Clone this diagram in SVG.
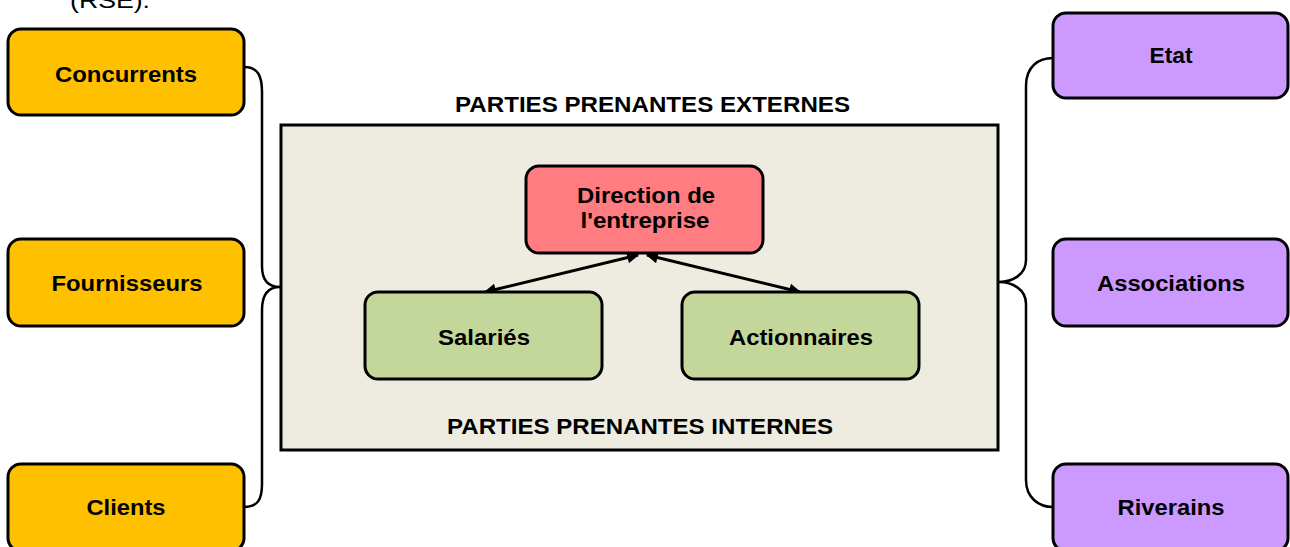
<svg xmlns="http://www.w3.org/2000/svg" width="1290" height="547" viewBox="0 0 1290 547">
<style>
  .t{font-family:"Liberation Sans",Arial,sans-serif;font-size:22px;font-weight:bold;fill:#000;text-anchor:middle}
  .box{stroke:#000;stroke-width:3}
  .ext-l{fill:#FFC000}
  .ext-r{fill:#CC99FF}
  .dir{fill:#FF7C80}
  .int{fill:#C4D79B}
  .brace{fill:none;stroke:#000;stroke-width:2.5}
  .arr{fill:none;stroke:#000;stroke-width:3}
</style>
<defs>
  <marker id="ah" viewBox="0 0 10 10" refX="9" refY="5" markerWidth="5" markerHeight="4" markerUnits="strokeWidth" orient="auto-start-reverse">
    <path d="M0,0 L10,5 L0,10 z" fill="#000"/>
  </marker>
</defs>
<rect width="1290" height="547" fill="#fff"/>
<text x="70" y="8" textLength="80" lengthAdjust="spacingAndGlyphs" style="font-family:'Liberation Sans',Arial,sans-serif;font-size:22px;fill:#000">(RSE).</text>

<g id="externes-frame">
  <rect x="281" y="125" width="717" height="325" fill="#EEECE1" stroke="#000" stroke-width="3"/>
  <text class="t" x="652.5" y="112" textLength="395" lengthAdjust="spacingAndGlyphs">PARTIES PRENANTES EXTERNES</text>
  <text class="t" x="640" y="434" textLength="386" lengthAdjust="spacingAndGlyphs">PARTIES PRENANTES INTERNES</text>
</g>

<g id="connectors">
  <path class="brace" d="M244,67 C258,67 262,76 262,92 L262,266 C262,280 268,287 280,287 C268,287 262,294 262,310 L262,484 C262,499 258,507 244,507"/>
  <path class="brace" d="M1053,58 C1039,58 1026,66 1026,86 L1026,260 C1026,275 1012,282 999,282 C1012,282 1026,289 1026,304 L1026,480 C1026,498 1039,507 1053,507"/>
  <line class="arr" x1="638" y1="255" x2="485" y2="292" marker-start="url(#ah)" marker-end="url(#ah)"/>
  <line class="arr" x1="647" y1="255" x2="800" y2="292" marker-start="url(#ah)" marker-end="url(#ah)"/>
</g>

<g id="concurrents">
  <rect class="box ext-l" x="8" y="29" width="236" height="86" rx="13"/>
  <text class="t" x="126" y="82" textLength="142" lengthAdjust="spacingAndGlyphs">Concurrents</text>
</g>
<g id="fournisseurs">
  <rect class="box ext-l" x="8" y="239" width="236" height="87" rx="13"/>
  <text class="t" x="127" y="291" textLength="151" lengthAdjust="spacingAndGlyphs">Fournisseurs</text>
</g>
<g id="clients">
  <rect class="box ext-l" x="8" y="464" width="236" height="87" rx="13"/>
  <text class="t" x="126" y="515" textLength="79" lengthAdjust="spacingAndGlyphs">Clients</text>
</g>
<g id="etat">
  <rect class="box ext-r" x="1053" y="13" width="235" height="85" rx="13"/>
  <text class="t" x="1171" y="63" textLength="43" lengthAdjust="spacingAndGlyphs">Etat</text>
</g>
<g id="associations">
  <rect class="box ext-r" x="1053" y="239" width="235" height="87" rx="13"/>
  <text class="t" x="1171" y="291" textLength="148" lengthAdjust="spacingAndGlyphs">Associations</text>
</g>
<g id="riverains">
  <rect class="box ext-r" x="1053" y="464" width="235" height="87" rx="13"/>
  <text class="t" x="1171" y="515" textLength="107" lengthAdjust="spacingAndGlyphs">Riverains</text>
</g>
<g id="direction">
  <rect class="box dir" x="526" y="166" width="237" height="87" rx="13"/>
  <text class="t" x="646" y="203" textLength="138" lengthAdjust="spacingAndGlyphs">Direction de</text>
  <text class="t" x="645" y="228" textLength="129" lengthAdjust="spacingAndGlyphs">l'entreprise</text>
</g>
<g id="salaries">
  <rect class="box int" x="365" y="292" width="237" height="87" rx="13"/>
  <text class="t" x="484" y="345" textLength="92" lengthAdjust="spacingAndGlyphs">Salariés</text>
</g>
<g id="actionnaires">
  <rect class="box int" x="682" y="292" width="237" height="87" rx="13"/>
  <text class="t" x="801" y="345" textLength="144" lengthAdjust="spacingAndGlyphs">Actionnaires</text>
</g>
</svg>
